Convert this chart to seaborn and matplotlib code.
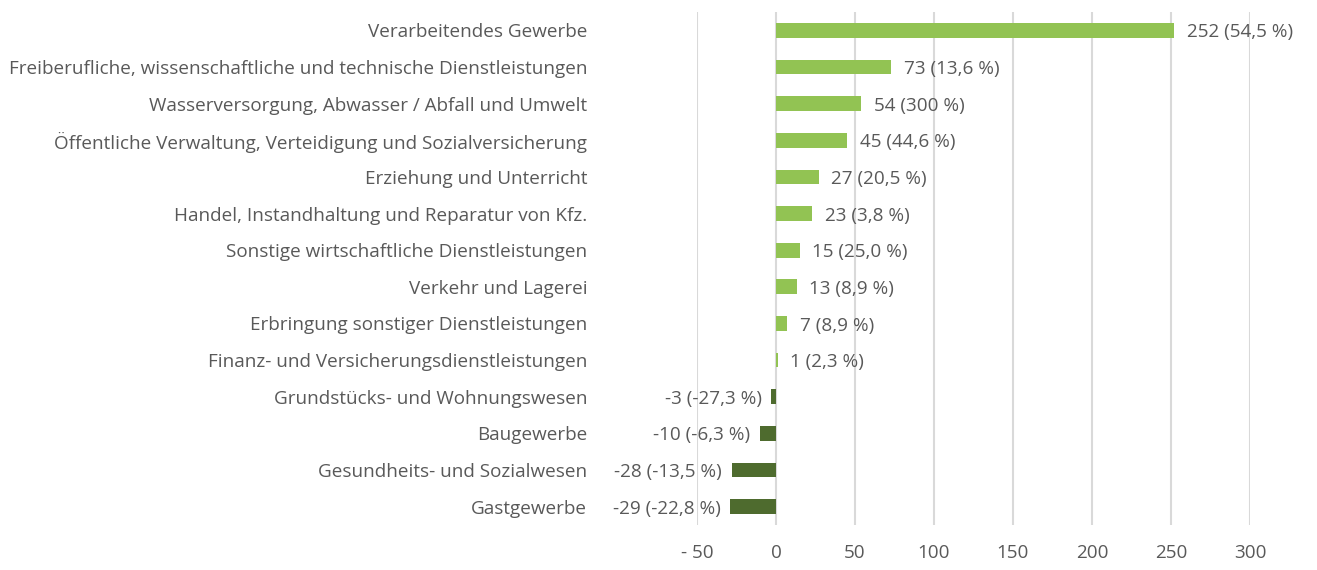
import matplotlib.pyplot as plt
import seaborn as sns
import pandas as pd

# Branches (top to bottom), change in absolute numbers and in percent
branches = [
    'Verarbeitendes Gewerbe',
    'Freiberufliche, wissenschaftliche und technische Dienstleistungen',
    'Wasserversorgung, Abwasser / Abfall und Umwelt',
    'Öffentliche Verwaltung, Verteidigung und Sozialversicherung',
    'Erziehung und Unterricht',
    'Handel, Instandhaltung und Reparatur von Kfz.',
    'Sonstige wirtschaftliche Dienstleistungen',
    'Verkehr und Lagerei',
    'Erbringung sonstiger Dienstleistungen',
    'Finanz- und Versicherungsdienstleistungen',
    'Grundstücks- und Wohnungswesen',
    'Baugewerbe',
    'Gesundheits- und Sozialwesen',
    'Gastgewerbe',
]
change = [252, 73, 54, 45, 27, 23, 15, 13, 7, 1, -3, -10, -28, -29]
change_pct = ['54,5', '13,6', '300', '44,6', '20,5', '3,8', '25,0', '8,9', '8,9',
              '2,3', '-27,3', '-6,3', '-13,5', '-22,8']
x_ticks = [-50, 0, 50, 100, 150, 200, 250, 300]

df = pd.DataFrame({'branch': branches, 'change': change})
df['sign'] = ['pos' if v >= 0 else 'neg' for v in change]

sns.set_style('white')
plt.rcParams['font.family'] = ['Open Sans', 'DejaVu Sans']
text_col = '#595959'
fs = 13.6

fig = plt.figure(figsize=(13.17, 5.70), dpi=100)
ax = fig.add_axes([697 / 1317, 45 / 570, 553 / 1317, 513 / 570])

sns.barplot(data=df, x='change', y='branch', hue='sign', dodge=False,
            palette={'pos': '#92c353', 'neg': '#4e6b2e'}, width=0.4,
            legend=False, ax=ax, orient='h', saturation=1, linewidth=0)

ax.set_xlim(-50, 300)
ax.set_ylim(len(branches) - 0.5, -0.5)
ax.set_xticks(x_ticks)
ax.set_xticklabels([f'- {abs(t)}' if t < 0 else str(t) for t in x_ticks])
ax.grid(axis='x', color='#d9d9d9', lw=1.5)
ax.grid(axis='y', visible=False)
ax.set_axisbelow(True)
for s in ax.spines.values():
    s.set_visible(False)
ax.set_xlabel('')
ax.set_ylabel('')
ax.tick_params(axis='y', length=0, pad=79, labelsize=fs, labelcolor=text_col)
ax.tick_params(axis='x', length=0, pad=14, labelsize=fs, labelcolor=text_col)

# value labels
for i, (v, p) in enumerate(zip(change, change_pct)):
    off = 9 if v >= 0 else -7
    ax.annotate(f'{v} ({p} %)', xy=(v, i), xytext=(off, -1.5), textcoords='offset points',
                ha='left' if v >= 0 else 'right', va='center',
                fontsize=fs, color=text_col)

fig.savefig('out.png', dpi=100)
